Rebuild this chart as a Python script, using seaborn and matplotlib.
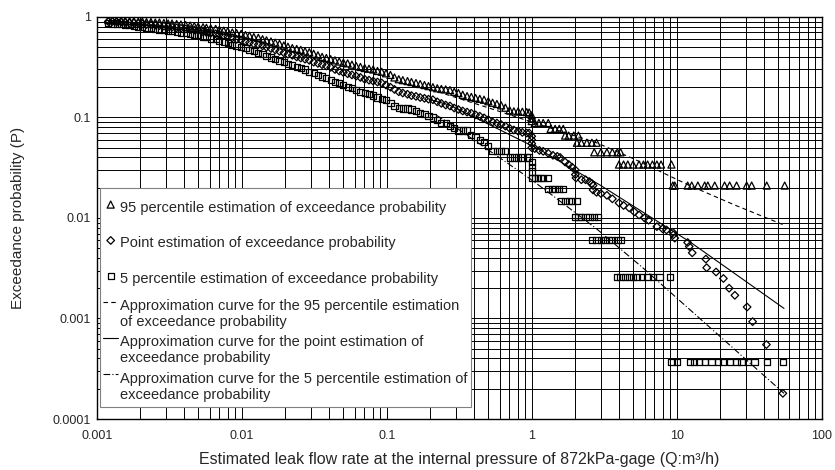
import numpy as np
import pandas as pd
import seaborn as sns
import matplotlib.pyplot as plt
from matplotlib.lines import Line2D
from matplotlib.legend_handler import HandlerLine2D

# leak flow rate (m3/h) and exceedance probability
x_band = [0.0012, 0.00128, 0.00137, 0.00147, 0.00157, 0.00168, 0.0018, 0.00193, 0.00206, 0.0022,
          0.00236, 0.00253, 0.0027, 0.0029, 0.0031, 0.0033, 0.00355, 0.0038, 0.0041, 0.0044,
          0.0047, 0.005, 0.0054, 0.0057, 0.0061, 0.0066, 0.007, 0.0075, 0.008, 0.0086,
          0.0092, 0.0099, 0.0106, 0.0113, 0.0121, 0.013, 0.0139, 0.0148, 0.0159, 0.017,
          0.0182, 0.0195, 0.0208, 0.0223, 0.0239, 0.0255, 0.0273, 0.0292, 0.0313, 0.0335,
          0.0358, 0.0383, 0.041, 0.0439, 0.047, 0.0502, 0.0537, 0.0575, 0.0615, 0.0658,
          0.0704, 0.0754, 0.0806, 0.0863, 0.0923, 0.0988, 0.106, 0.113, 0.121, 0.129,
          0.139, 0.148, 0.159, 0.17, 0.182, 0.194, 0.208, 0.223, 0.238, 0.255,
          0.273, 0.292, 0.312, 0.334, 0.358, 0.383, 0.41, 0.438, 0.469, 0.502,
          0.537, 0.575, 0.615, 0.658, 0.704, 0.753, 0.806, 0.862, 0.923, 0.96]

p95_band = [0.93, 0.93, 0.92, 0.92, 0.91, 0.91, 0.91, 0.90, 0.90, 0.89,
            0.89, 0.88, 0.88, 0.87, 0.86, 0.86, 0.85, 0.84, 0.83, 0.82,
            0.81, 0.80, 0.79, 0.78, 0.77, 0.76, 0.745, 0.73, 0.72, 0.70,
            0.69, 0.68, 0.66, 0.65, 0.63, 0.62, 0.60, 0.585, 0.57, 0.555,
            0.54, 0.52, 0.505, 0.49, 0.48, 0.47, 0.455, 0.445, 0.43, 0.415,
            0.40, 0.39, 0.38, 0.37, 0.36, 0.35, 0.345, 0.335, 0.325, 0.318,
            0.31, 0.305, 0.30, 0.29, 0.285, 0.275, 0.265, 0.25, 0.24, 0.235,
            0.23, 0.225, 0.22, 0.215, 0.21, 0.205, 0.20, 0.195, 0.192, 0.19,
            0.187, 0.18, 0.175, 0.168, 0.163, 0.16, 0.156, 0.153, 0.15, 0.145,
            0.14, 0.136, 0.132, 0.125, 0.118, 0.115, 0.115, 0.114, 0.113, 0.112]

ppt_band = [0.90, 0.90, 0.89, 0.89, 0.88, 0.87, 0.87, 0.86, 0.85, 0.84,
            0.84, 0.83, 0.82, 0.81, 0.80, 0.79, 0.78, 0.77, 0.76, 0.75,
            0.74, 0.73, 0.71, 0.70, 0.69, 0.68, 0.665, 0.65, 0.635, 0.62,
            0.60, 0.59, 0.57, 0.555, 0.54, 0.53, 0.515, 0.50, 0.485, 0.47,
            0.455, 0.44, 0.425, 0.415, 0.40, 0.39, 0.38, 0.37, 0.355, 0.345,
            0.335, 0.325, 0.315, 0.30, 0.29, 0.28, 0.272, 0.265, 0.258, 0.25,
            0.24, 0.235, 0.23, 0.225, 0.22, 0.21, 0.20, 0.19, 0.18, 0.175,
            0.17, 0.165, 0.162, 0.158, 0.155, 0.152, 0.15, 0.143, 0.138, 0.133,
            0.13, 0.124, 0.12, 0.116, 0.113, 0.11, 0.106, 0.103, 0.099, 0.095,
            0.09, 0.088, 0.085, 0.082, 0.078, 0.075, 0.073, 0.071, 0.07, 0.07]

p05_band = [0.87, 0.86, 0.86, 0.85, 0.84, 0.83, 0.82, 0.80, 0.79, 0.78,
            0.77, 0.76, 0.75, 0.74, 0.73, 0.72, 0.71, 0.70, 0.69, 0.68,
            0.67, 0.66, 0.64, 0.63, 0.61, 0.60, 0.58, 0.57, 0.55, 0.53,
            0.52, 0.50, 0.49, 0.47, 0.455, 0.44, 0.425, 0.41, 0.395, 0.38,
            0.365, 0.355, 0.34, 0.33, 0.32, 0.31, 0.30, 0.285, 0.275, 0.265,
            0.255, 0.245, 0.235, 0.227, 0.22, 0.21, 0.20, 0.195, 0.188, 0.18,
            0.175, 0.17, 0.165, 0.158, 0.153, 0.148, 0.14, 0.13, 0.124, 0.123,
            0.123, 0.12, 0.115, 0.11, 0.108, 0.103, 0.10, 0.095, 0.088, 0.088,
            0.082, 0.079, 0.074, 0.074, 0.074, 0.067, 0.064, 0.06, 0.057, 0.052,
            0.046, 0.046, 0.046, 0.046, 0.04, 0.04, 0.04, 0.04, 0.04, 0.04]

x95_tail = [1.0, 1.0, 1.0, 1.05, 1.12, 1.2, 1.3, 1.35, 1.45, 1.55, 1.65,
            1.7, 1.8, 1.95, 2.1, 2.05, 2.2, 2.4, 2.6, 2.8,
            2.7, 3.0, 3.3, 3.6, 3.9, 4.1,
            4.0, 4.3, 4.6, 5.0, 5.5, 5.9, 6.3, 6.8, 7.3, 7.8, 9.2,
            9.4, 9.7, 11.9, 12.7, 14.0, 15.6, 16.4, 18.3, 21.4, 23.2, 25.9, 30.4, 32.9, 41.8, 55.6]
p95_tail = [0.105, 0.098, 0.092, 0.088, 0.088, 0.088, 0.088, 0.077, 0.077, 0.077, 0.077,
            0.066, 0.066, 0.066, 0.066, 0.056, 0.056, 0.056, 0.056, 0.056,
            0.045, 0.045, 0.045, 0.045, 0.045, 0.045,
            0.034, 0.034, 0.034, 0.034, 0.034, 0.034, 0.034, 0.034, 0.034, 0.034, 0.034,
            0.021, 0.021, 0.021, 0.021, 0.021, 0.021, 0.021, 0.021, 0.021, 0.021, 0.021, 0.021, 0.021, 0.021, 0.021]

xpt_tail = [1.0, 1.0, 1.0, 1.0, 1.05, 1.13, 1.2, 1.3, 1.4, 1.5, 1.57, 1.7, 1.8, 1.9,
            2.0, 2.0, 2.02, 2.2, 2.35, 2.5, 2.6, 2.65, 2.65, 2.8, 3.0, 3.3, 3.6, 4.0,
            4.3, 4.7, 5.1, 5.5, 6.0, 6.4, 7.3, 8.0, 8.5, 9.4, 9.5, 9.7, 11.9, 12.2,
            12.8, 15.9, 16.1, 18.7, 21.0, 23.0, 25.2, 30.6, 33.4, 41.6, 54.0]
ppt_tail = [0.065, 0.06, 0.055, 0.05, 0.049, 0.047, 0.046, 0.044, 0.042, 0.041, 0.040, 0.036, 0.034, 0.032,
            0.030, 0.027, 0.025, 0.024, 0.024, 0.023, 0.022, 0.021, 0.019, 0.018, 0.0175, 0.0168, 0.0155, 0.0141,
            0.0133, 0.0126, 0.0115, 0.0107, 0.010, 0.0095, 0.0082, 0.0078, 0.0076, 0.0072, 0.0068, 0.0063, 0.0057, 0.0052,
            0.0045, 0.0039, 0.0032, 0.0029, 0.0025, 0.002, 0.0017, 0.0013, 0.00093, 0.00055, 0.00018]

x05_tail = [1.0, 1.0, 1.0, 1.0, 1.05, 1.1, 1.15, 1.2, 1.3,
            1.3, 1.38, 1.45, 1.55, 1.65,
            1.6, 1.7, 1.8, 1.9, 2.05,
            2.0, 2.1, 2.2, 2.35, 2.5, 2.7, 2.85,
            2.6, 2.8, 3.0, 3.2, 3.4, 3.6, 3.9, 4.1,
            3.86, 4.1, 4.4, 4.7, 4.97, 5.3, 5.8, 6.3, 6.9, 7.6, 8.95,
            9.2, 10.0, 12.3, 13.2, 14.3, 15.6, 17.4, 19.2, 20.8, 23.2, 25.9, 28.0, 31.0, 34.4, 41.8, 54.0]
p05_tail = [0.036, 0.032, 0.029, 0.025, 0.025, 0.025, 0.025, 0.025, 0.025,
            0.0194, 0.0194, 0.0194, 0.0194, 0.0194,
            0.0147, 0.0147, 0.0147, 0.0147, 0.0147,
            0.0102, 0.0102, 0.0102, 0.0102, 0.0102, 0.0102, 0.0102,
            0.006, 0.006, 0.006, 0.006, 0.006, 0.006, 0.006, 0.006,
            0.0026, 0.0026, 0.0026, 0.0026, 0.0026, 0.0026, 0.0026, 0.0026, 0.0026, 0.0026, 0.0026,
            0.00037, 0.00037, 0.00037, 0.00037, 0.00037, 0.00037, 0.00037, 0.00037, 0.00037, 0.00037,
            0.00037, 0.00037, 0.00037, 0.00037, 0.00037, 0.00037]

# approximation curves
fit95_x = [0.2, 0.5, 1.0, 2.8, 5.0, 12.3, 25.0, 55.0]
fit95_y = [0.19, 0.125, 0.09, 0.056, 0.039, 0.021, 0.0135, 0.0085]
fitpt_x = [0.2, 0.27, 0.5, 1.13, 3.0, 12.3, 55.0]
fitpt_y = [0.15, 0.133, 0.086, 0.048, 0.021, 0.0058, 0.00126]
fit05_x = [0.22, 0.27, 0.92, 1.27, 2.8, 5.83, 55.0]
fit05_y = [0.105, 0.088, 0.026, 0.0185, 0.0078, 0.0032, 0.00018]

labels = [
    "95 percentile estimation of exceedance probability",
    "Point estimation of exceedance probability",
    "5 percentile estimation of exceedance probability",
    "Approximation curve for the 95 percentile estimation\nof exceedance probability",
    "Approximation curve for the point estimation of\nexceedance probability",
    "Approximation curve for the 5 percentile estimation of\nexceedance probability",
]


class TopLineHandler(HandlerLine2D):
    # put the line sample next to the first text line, like the original legend
    def create_artists(self, legend, orig_handle, xdescent, ydescent, width, height, fontsize, trans):
        arts = super().create_artists(legend, orig_handle, xdescent, ydescent, width, height, fontsize, trans)
        for a in arts:
            a.set_ydata(np.asarray(a.get_ydata()) + 0.55 * fontsize)
        return arts


sns.set_style("white")
plt.rcParams['font.family'] = ['Liberation Sans', 'DejaVu Sans']

fig = plt.figure(figsize=(8.35, 4.7), dpi=100)
ax = fig.add_axes([0.116, 0.1085, 0.868, 0.8555])

mk = dict(facecolor="none", edgecolor="black", linewidth=0.9, ax=ax, zorder=3)
sns.scatterplot(x=x_band + x95_tail, y=p95_band + p95_tail, marker="^", s=26, label=labels[0], **mk)
sns.scatterplot(x=x_band + xpt_tail, y=ppt_band + ppt_tail, marker="D", s=15, label=labels[1], **mk)
sns.scatterplot(x=x_band + x05_tail, y=p05_band + p05_tail, marker="s", s=20, label=labels[2], **mk)

sns.lineplot(x=fit95_x, y=fit95_y, color="black", linewidth=0.8, dashes=(4, 3),
             label=labels[3], ax=ax, zorder=4)
sns.lineplot(x=fitpt_x, y=fitpt_y, color="black", linewidth=0.8,
             label=labels[4], ax=ax, zorder=4)
sns.lineplot(x=fit05_x, y=fit05_y, color="black", linewidth=0.8, dashes=(6, 2, 1, 2),
             label=labels[5], ax=ax, zorder=4)

ax.set_xscale("log")
ax.set_yscale("log")
ax.set_xlim(0.001, 100)
ax.set_ylim(0.0001, 1)
ax.set_xticks([0.001, 0.01, 0.1, 1, 10, 100])
ax.set_xticklabels(["0.001", "0.01", "0.1", "1", "10", "100"])
ax.set_yticks([0.0001, 0.001, 0.01, 0.1, 1])
ax.set_yticklabels(["0.0001", "0.001", "0.01", "0.1", "1"])
ax.tick_params(which="both", length=0, labelsize=9)
ax.tick_params(axis="x", pad=8)
ax.tick_params(axis="y", pad=4)
ax.grid(which="both", color="black", linewidth=0.7)
for sp in ax.spines.values():
    sp.set_color("black")
    sp.set_linewidth(1.0)

ax.set_xlabel("Estimated leak flow rate at the internal pressure of 872kPa-gage (Q:m³/h)", fontsize=11.5, labelpad=7)
ax.set_ylabel("Exceedance probability (P)", fontsize=11, labelpad=20)

leg = ax.legend(loc="upper left", bbox_to_anchor=(0.004, 0.575), borderaxespad=0, fontsize=10.5,
                frameon=True, fancybox=False, framealpha=1, edgecolor="#808080",
                handlelength=1.0, handletextpad=0.15, handleheight=2.95, labelspacing=0.3,
                borderpad=0.25, scatteryoffsets=[0.22],
                handler_map={Line2D: TopLineHandler()})
leg.get_frame().set_linewidth(0.8)
for t in leg.get_texts():
    t.set_linespacing(1.17)
leg.set_zorder(10)

fig.savefig("out.png", dpi=100)
